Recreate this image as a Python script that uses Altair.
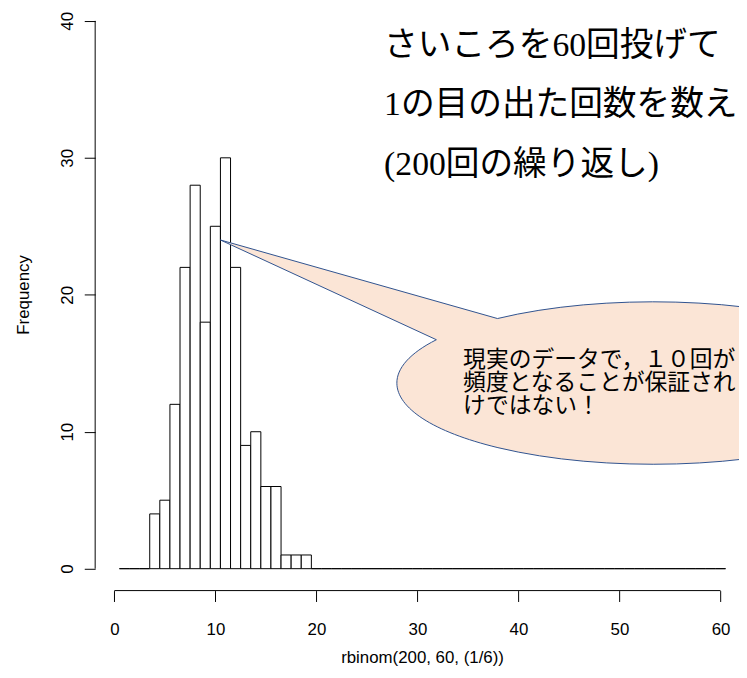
import altair as alt
import pandas as pd

# ---- data (one bar per integer, breaks at half-integers) ----
values = list(range(1, 61))
counts = [0, 0, 0, 4, 5, 12, 22, 28, 18, 25, 30, 22, 9, 10, 6, 6, 1, 1, 1, 0,
          0, 0, 0, 0, 0, 0, 0, 0, 0, 0, 0, 0, 0, 0, 0, 0, 0, 0, 0, 0,
          0, 0, 0, 0, 0, 0, 0, 0, 0, 0, 0, 0, 0, 0, 0, 0, 0, 0, 0, 0]
x_ticks = [0, 10, 20, 30, 40, 50, 60]
y_ticks = [0, 10, 20, 30, 40]
x_title = "rbinom(200, 60, (1/6))"
y_title = "Frequency"
title_lines = ["さいころを60回投げて", "1の目の出た回数を数え", "(200回の繰り返し)"]
callout_lines = ["現実のデータで，１０回が", "頻度となることが保証され", "けではない！"]
callout_tip = {"x": [10.5], "y": [24]}      # where the speech bubble points (data units)
title_anchor = {"x": [26.7], "y": [37.43]}  # first baseline of the upper-right note (data units)

# ---- layout ----
PLOT_W, PLOT_H = 650, 585
x_dom = [-1.9, 61.83]
y_dom = [-1.6, 40.71]
FONT = "Liberation Sans"
JP_FONT = "Noto Sans CJK JP"

hist = pd.DataFrame({"value": values, "count": counts})
hist["lo"] = hist["value"] - 0.5
hist["hi"] = hist["value"] + 0.5
hist["base"] = 0

xs = alt.Scale(domain=x_dom, nice=False, zero=False)
ys = alt.Scale(domain=y_dom, nice=False, zero=False)

x_axis = alt.Axis(
    values=x_ticks, format="d", domain=False, grid=False,
    tickSize=11, tickColor="black", tickWidth=1,
    labelFont=FONT, labelFontSize=17, labelColor="black", labelPadding=20,
    labelFlush=False, labelOverlap=False,
    title=x_title, titleFont=FONT, titleFontSize=17, titleFontWeight="normal",
    titleColor="black", titleX=330, titleY=68, titleAlign="center",
    titleBaseline="middle",
)
y_axis = alt.Axis(
    values=y_ticks, format="d", domain=False, grid=False,
    tickSize=11, tickColor="black", tickWidth=1,
    labelFont=FONT, labelFontSize=17, labelColor="black", labelPadding=16.5,
    labelAngle=270, labelAlign="center", labelBaseline="middle",
    labelFlush=False, labelOverlap=False,
    title=y_title, titleFont=FONT, titleFontSize=17, titleFontWeight="normal",
    titleColor="black", titleAngle=270, titleX=-67, titleY=286,
    titleAlign="center", titleBaseline="alphabetic",
)


def X(field):
    return alt.X(field, scale=xs, axis=x_axis)


def Y(field):
    return alt.Y(field, scale=ys, axis=y_axis)


bars = alt.Chart(hist).mark_rect(fill="white", stroke="black", strokeWidth=1).encode(
    x=X("lo:Q"), x2="hi:Q", y=Y("count:Q"), y2="base:Q",
)

x_line = alt.Chart(pd.DataFrame({"a": [x_ticks[0]], "b": [x_ticks[-1]]})).mark_rule(
    color="black", strokeWidth=1
).encode(x=X("a:Q"), x2="b:Q", y=alt.value(PLOT_H))

y_line = alt.Chart(pd.DataFrame({"a": [y_ticks[0]], "b": [y_ticks[-1]]})).mark_rule(
    color="black", strokeWidth=1
).encode(y=Y("a:Q"), y2="b:Q", x=alt.value(0))

# speech bubble: wedge + ellipse, drawn in pixels relative to the tip (size=4 -> scale 1)
BUBBLE = "M0,0 L279.7,79.3 A259,82 0 1,1 218,100.7 Z"
tip_df = pd.DataFrame(callout_tip)
bubble = alt.Chart(tip_df).mark_point(
    shape=BUBBLE, size=4, filled=True, fill="#FBE5D6", stroke="#2F528F",
    strokeWidth=1, opacity=1, fillOpacity=1, strokeOpacity=1,
).encode(x=X("x:Q"), y=Y("y:Q"))

bubble_text = alt.Chart(tip_df).mark_text(
    text="\n".join(callout_lines), lineBreak="\n", lineHeight=23.5,
    align="left", baseline="alphabetic", dx=245, dy=128,
    font=JP_FONT, fontSize=23, color="black",
).encode(x=X("x:Q"), y=Y("y:Q"))

note = alt.Chart(pd.DataFrame(title_anchor)).mark_text(
    text="\n".join(title_lines), lineBreak="\n", lineHeight=60,
    align="left", baseline="alphabetic",
    font="Liberation Serif, Noto Sans CJK JP", fontSize=34, color="black",
).encode(x=X("x:Q"), y=Y("y:Q"))

chart = alt.layer(bars, x_line, y_line, bubble, bubble_text, note).properties(
    width=PLOT_W, height=PLOT_H,
    autosize=alt.AutoSizeParams(type="none"),
    padding={"left": 88, "top": 0, "right": 0, "bottom": 77},
    background="white",
).configure_view(stroke=None)

chart.save("out.html", embed_options={"renderer": "svg", "actions": False})
